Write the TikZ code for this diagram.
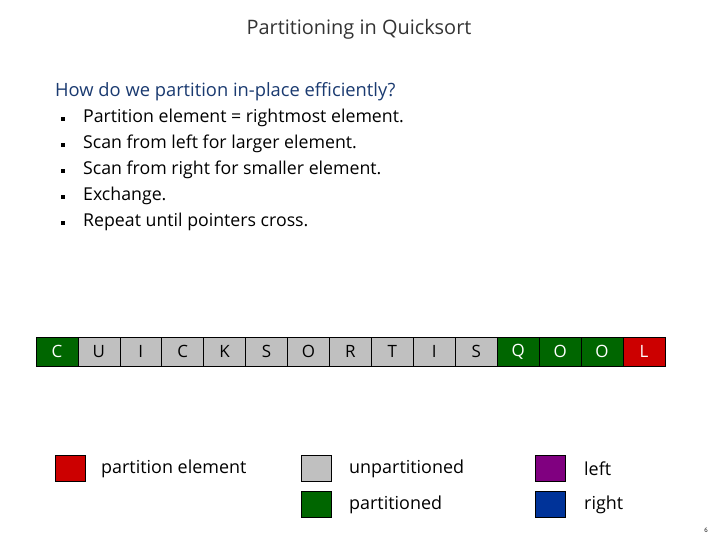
\documentclass[tikz,border=0pt]{standalone}
\usepackage{fontspec}
\setmainfont{Open Sans}
\definecolor{qred}{HTML}{CC0000}
\definecolor{qgray}{HTML}{C0C0C0}
\definecolor{qgreen}{HTML}{006600}
\definecolor{qpurple}{HTML}{800080}
\definecolor{qblue}{HTML}{003399}
\definecolor{titlegray}{HTML}{333333}
\definecolor{asknavy}{HTML}{1A3A70}
\tikzset{
  cell/.style={draw=black, line width=0.6pt, minimum width=41.93bp, minimum height=29bp, inner sep=0pt, font=\fontsize{17}{20}\selectfont},
  pelem/.style={fill=qred, text=white},
  unpart/.style={fill=qgray, text=black},
  part/.style={fill=qgreen, text=white},
  swatch/.style={draw=black, line width=0.6pt, minimum width=30bp, minimum height=26bp, inner sep=0pt},
  legend/.style={anchor=west, inner sep=0pt, font=\fontsize{18}{21}\selectfont}
}
\begin{document}
\begin{tikzpicture}[x=1bp, y=-1bp]
	\useasboundingbox (0,0) rectangle (720,540);
	% title and text
	\node[text=titlegray, font=\fontsize{20}{24}\selectfont] (title) at (359,29) {Partitioning in Quicksort};
	\node[anchor=west, inner sep=0pt, text=asknavy, font=\fontsize{18.4}{22}\selectfont] (question) at (55,92) {How do we partition in-place efficiently?};
	\foreach \txt [count=\i] in {Partition element = rightmost element., Scan from left for larger element., Scan from right for smaller element., Exchange., Repeat until pointers cross.}
	{
		\fill (61,{116+26*(\i-1)+1}) rectangle ++(3.5,4);
		\node[anchor=west, inner sep=0pt, font=\fontsize{17.8}{21}\selectfont] (point\i) at (83,{118+26*(\i-1)}) {\txt};
	}
	% the array
	\foreach \ch/\kind [count=\i] in {C/part, U/unpart, I/unpart, C/unpart, K/unpart, S/unpart, O/unpart, R/unpart, T/unpart, I/unpart, S/unpart, Q/part, O/part, O/part, L/pelem}
		\node[cell, \kind] (cell\i) at ({36+41.93*(\i-0.5)},351.5) {\ch};
	% legend
	\node[swatch, fill=qred] (swatchpe) at (70,468) {};
	\node[legend] (labelpe) at (101,469) {partition element};
	\node[swatch, fill=qgray] (swatchun) at (316,468) {};
	\node[legend] (labelun) at (349,469) {unpartitioned};
	\node[swatch, fill=qgreen] (swatchpa) at (316,504) {};
	\node[legend] (labelpa) at (349,505) {partitioned};
	\node[swatch, fill=qpurple] (swatchle) at (550,468) {};
	\node[legend] (labelle) at (584,469) {left};
	\node[swatch, fill=qblue] (swatchri) at (550,504) {};
	\node[legend] (labelri) at (584,505) {right};
	\node[font=\fontsize{6}{7}\selectfont] (pagenum) at (706,530) {6};
\end{tikzpicture}
\end{document}
